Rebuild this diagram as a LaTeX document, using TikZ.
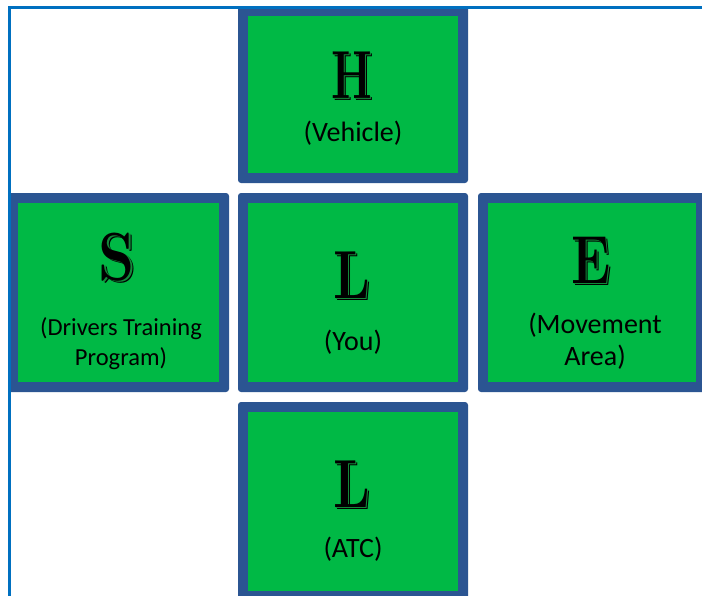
\documentclass[tikz,border=0pt]{standalone}
\usepackage{fontspec}
\usepackage{graphicx}
\newfontfamily\lblfont{Carlito}
\definecolor{frameblue}{HTML}{0070C0}
\definecolor{boxblue}{HTML}{2B5592}
\definecolor{boxgreen}{HTML}{00B945}
\definecolor{shadegreen}{HTML}{138A3A}
\newcommand\shletter[2][0.8]{\scalebox{#1}[1]{\makebox[0pt][l]{\kern2.6pt\raisebox{-2.6pt}{\color{black}#2}}\makebox[0pt][l]{\kern1.3pt\raisebox{-1.3pt}{\color{shadegreen}#2}}#2}}
\begin{document}
\begin{tikzpicture}[x=1pt,y=-1pt,
  box/.style={rectangle, fill=boxblue, rounded corners=3pt, inner sep=0pt, outer sep=0pt},
  letter/.style={anchor=base, inner sep=0pt, font=\fontsize{68}{68}\selectfont\bfseries},
  lbl/.style={anchor=base, inner sep=0pt, font=\lblfont\fontsize{28}{32}\selectfont},
  smalllbl/.style={lbl, font=\lblfont\fontsize{24.5}{30}\selectfont}]
\useasboundingbox (0,0) rectangle (702,595);
\clip (0,0) rectangle (702,595);
% boxes
\node[box, minimum width=230pt, minimum height=177pt] (h) at (353,94.5) {};
\node[box, minimum width=221pt, minimum height=199pt] (s) at (118.5,292.5) {};
\node[box, minimum width=230pt, minimum height=199pt] (c) at (353,292.5) {};
\node[box, minimum width=228pt, minimum height=199pt] (e) at (592,292.5) {};
\node[box, minimum width=230pt, minimum height=199pt] (a) at (353,501.5) {};
\foreach \n in {h,s,c,e,a}
  \fill[boxgreen] ([shift={(10,10)}]\n.north west) rectangle ([shift={(-10,-10)}]\n.south east);
% frame
\draw[frameblue, line width=3pt] (9.5,620) -- (9.5,7.7) -- (720,7.7);
% letters
\node[letter] (hl) at (352,98) {\shletter[0.68]{H}};
\node[letter] (sl) at (117,280) {\shletter[0.85]{S}};
\node[letter] (cl) at (352,298) {\shletter[0.8]{L}};
\node[letter] (el) at (591,283) {\shletter[0.78]{E}};
\node[letter] (al) at (352,507) {\shletter[0.8]{L}};
% labels
\node[lbl] (ht) at (353,141) {(Vehicle)};
\node[smalllbl] (st1) at (121,335) {(Drivers Training};
\node[smalllbl] (st2) at (121,365) {Program)};
\node[lbl] (ct) at (353,350) {(You)};
\node[lbl] (et1) at (595,333) {(Movement};
\node[lbl] (et2) at (595,365) {Area)};
\node[lbl] (at) at (353,557) {(ATC)};
\end{tikzpicture}
\end{document}
